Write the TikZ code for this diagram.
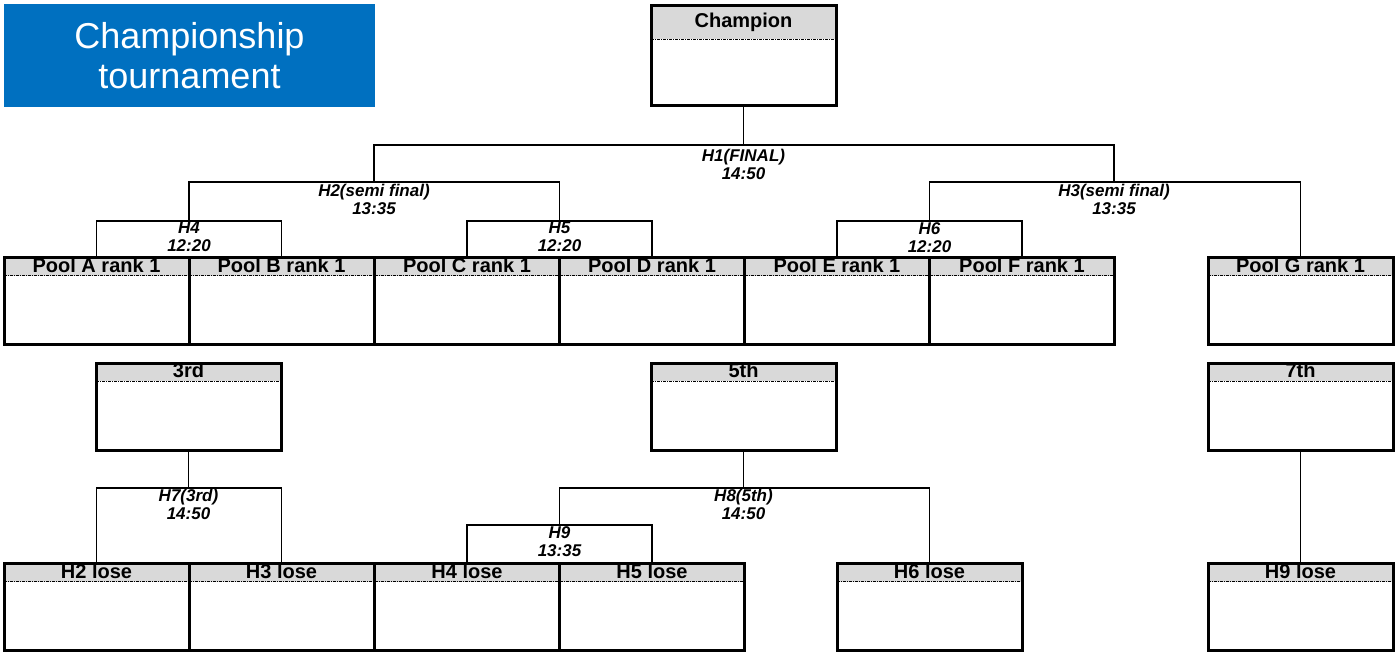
\documentclass[tikz,border=0pt]{standalone}
\usepackage{fontspec}
\setmainfont{Liberation Sans}
\usetikzlibrary{calc}

\definecolor{headgray}{HTML}{D9D9D9}
\definecolor{titleblue}{HTML}{0070C0}

\tikzset{
  box/.style={draw=black, line width=3pt, minimum width=185, inner sep=0pt},
  band/.style={path picture={
      \fill[headgray] (path picture bounding box.north west) rectangle ([yshift=-#1]path picture bounding box.north east);
      \draw[line width=1pt, dash pattern=on 3pt off 1pt on 1pt off 1pt] ([yshift=-#1]path picture bounding box.north west) -- ([yshift=-#1]path picture bounding box.north east);}},
  boxhead/.style={anchor=base, inner sep=0pt, font=\fontsize{20}{22}\selectfont\bfseries},
  link/.style={draw=black, line width=1.8pt},
  match/.style={anchor=north, align=center, inner sep=1pt, font=\fontsize{17}{18}\selectfont\bfseries\itshape}
}

% name, x, y, height, band, header
\newcommand{\matchbox}[6]{%
  \node[box, minimum height=#4, band=#5] (#1) at (#2,#3) {};
  \node[boxhead] (#1t) at ([yshift=-#5/2-7]#1.north) {#6};}

\begin{document}
\begin{tikzpicture}[x=1pt,y=-1pt]
\useasboundingbox (0,0) rectangle (1398,653);

% title
\node[fill=titleblue, text=white, minimum width=371, minimum height=103, inner sep=0pt,
      align=center, font=\fontsize{36}{40}\selectfont] (title) at (189.5,55.5) {Championship\\tournament};

% boxes
\matchbox{champ}{743.5}{55}{100}{34}{Champion}
\matchbox{pA}{96.5}{301}{87}{18}{Pool A rank 1}
\matchbox{pB}{281.5}{301}{87}{18}{Pool B rank 1}
\matchbox{pC}{467}{301}{87}{18}{Pool C rank 1}
\matchbox{pD}{652}{301}{87}{18}{Pool D rank 1}
\matchbox{pE}{837}{301}{87}{18}{Pool E rank 1}
\matchbox{pF}{1022}{301}{87}{18}{Pool F rank 1}
\matchbox{pG}{1300.5}{301}{87}{18}{Pool G rank 1}
\matchbox{third}{188.5}{406.5}{87}{18}{3rd}
\matchbox{fifth}{743.5}{406.5}{87}{18}{5th}
\matchbox{seventh}{1300.5}{406.5}{87}{18}{7th}
\matchbox{lA}{96.5}{607}{87}{18}{H2 lose}
\matchbox{lB}{281.5}{607}{87}{18}{H3 lose}
\matchbox{lC}{467}{607}{87}{18}{H4 lose}
\matchbox{lD}{652}{607}{87}{18}{H5 lose}
\matchbox{lE}{929.5}{607}{87}{18}{H6 lose}
\matchbox{lF}{1300.5}{607}{87}{18}{H9 lose}

% bracket joints
\coordinate (h1) at (743.5,145);
\coordinate (h2) at (374,182);
\coordinate (h3) at (1114,182);
\coordinate (h4) at (189,221);
\coordinate (h5) at (559.5,221);
\coordinate (h6) at (929.5,221);
\coordinate (h7) at (188.5,488);
\coordinate (h8) at (743.5,488);
\coordinate (h9) at (559.5,525);

% championship bracket
\draw[link] (pA.north) |- (h4) -| (pB.north);
\draw[link] (pC.north) |- (h5) -| (pD.north);
\draw[link] (pE.north) |- (h6) -| (pF.north);
\draw[link] (h4) |- (h2) -| (h5);
\draw[link] (h6) |- (h3) -| (pG.north);
\draw[link] (h2) |- (h1) -| (h3);
\draw[link] (h1) -- (champ.south);

% placing bracket
\draw[link] (lA.north) |- (h7) -| (lB.north);
\draw[link] (h7) -- (third.south);
\draw[link] (lC.north) |- (h9) -| (lD.north);
\draw[link] (h9) |- (h8) -| (lE.north);
\draw[link] (h8) -- (fifth.south);
\draw[link] (seventh.south) -- (lF.north);

% match labels
\node[match] (m1) at ([yshift=-3]h1) {H1(FINAL)\\14:50};
\node[match] (m2) at ([yshift=-1]h2) {H2(semi final)\\13:35};
\node[match] (m3) at ([yshift=-1]h3) {H3(semi final)\\13:35};
\node[match] (m4) at (h4) {H4\\12:20};
\node[match] (m5) at (h5) {H5\\12:20};
\node[match] (m6) at (h6) {H6\\12:20};
\node[match] (m7) at (h7) {H7(3rd)\\14:50};
\node[match] (m8) at (h8) {H8(5th)\\14:50};
\node[match] (m9) at (h9) {H9\\13:35};
\end{tikzpicture}
\end{document}
